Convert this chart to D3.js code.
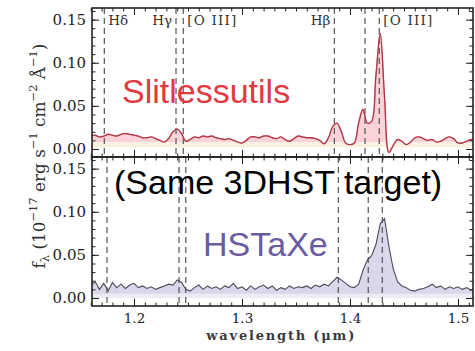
<!DOCTYPE html>
<html>
<head>
<meta charset="utf-8">
<script src="https://cdn.jsdelivr.net/npm/d3@7"></script>
<style>
  html, body { margin: 0; padding: 0; background: #fff; }
  svg { display: block; }
</style>
</head>
<body>
<svg id="chart" width="475" height="351"></svg>
<script>
// Observed wavelength grid (micron)
const wavelength = [
  1.160, 1.164, 1.168, 1.172, 1.176, 1.180, 1.184, 1.188, 1.192, 1.196,
  1.200, 1.204, 1.208, 1.212, 1.216, 1.220, 1.224, 1.228, 1.232, 1.236,
  1.240, 1.244, 1.248, 1.252, 1.256, 1.260, 1.264, 1.268, 1.272, 1.276,
  1.280, 1.284, 1.288, 1.292, 1.296, 1.300, 1.304, 1.308, 1.312, 1.316,
  1.320, 1.324, 1.328, 1.332, 1.336, 1.340, 1.344, 1.348, 1.352, 1.356,
  1.360, 1.364, 1.368, 1.372, 1.376, 1.380, 1.384, 1.388, 1.392, 1.396,
  1.400, 1.404, 1.408, 1.412, 1.416, 1.420, 1.424, 1.428, 1.432, 1.436,
  1.440, 1.444, 1.448, 1.452, 1.456, 1.460, 1.464, 1.468, 1.472, 1.476,
  1.480, 1.484, 1.488, 1.492, 1.496, 1.500, 1.504, 1.508, 1.512, 1.516
];

// 1D spectrum extracted with slitlessutils (1e-17 erg/s/cm2/A)
const slitlessFlux = [
  0.015, 0.016, 0.014, 0.015, 0.017, 0.016, 0.015, 0.017, 0.018, 0.017,
  0.016, 0.015, 0.013, 0.013, 0.014, 0.012, 0.010, 0.008, 0.012, 0.020,
  0.023, 0.018, 0.009, 0.011, 0.014, 0.013, 0.015, 0.014, 0.015, 0.013,
  0.012, 0.011, 0.012, 0.010, 0.008, 0.007, 0.010, 0.014, 0.014, 0.013,
  0.015, 0.015, 0.013, 0.012, 0.014, 0.011, 0.009, 0.012, 0.015, 0.014,
  0.013, 0.013, 0.012, 0.010, 0.006, 0.013, 0.026, 0.030, 0.020, 0.007,
  0.005, 0.007, 0.030, 0.046, 0.030, 0.032, 0.085, 0.134, 0.060, -0.004,
  0.004, 0.011, 0.009, 0.005, 0.008, 0.013, 0.014, 0.012, 0.010, 0.011,
  0.008, 0.009, 0.012, 0.014, 0.012, 0.007, 0.007, 0.009, 0.011, 0.010
];

// Same target extracted with HSTaXe
const hstaxeFlux = [
  0.014, 0.019, 0.010, 0.017, 0.008, 0.018, 0.012, 0.016, 0.011, 0.015,
  0.017, 0.012, 0.014, 0.011, 0.013, 0.010, 0.012, 0.014, 0.016, 0.015,
  0.021, 0.018, 0.010, 0.008, 0.012, 0.015, 0.010, 0.014, 0.011, 0.013,
  0.010, 0.014, 0.012, 0.017, 0.011, 0.013, 0.009, 0.014, 0.010, 0.013,
  0.015, 0.011, 0.014, 0.009, 0.012, 0.010, 0.014, 0.011, 0.013, 0.012,
  0.014, 0.011, 0.015, 0.013, 0.016, 0.014, 0.019, 0.024, 0.021, 0.017,
  0.013, 0.012, 0.016, 0.032, 0.044, 0.049, 0.062, 0.086, 0.092, 0.060,
  0.034, 0.019, 0.014, 0.012, 0.009, 0.008, 0.010, 0.011, 0.013, 0.016,
  0.012, 0.014, 0.010, 0.013, 0.011, 0.013, 0.010, 0.012, 0.009, 0.010
];

// Redshifted emission-line markers (micron), per extraction
const lineWaveTop = [1.1725, 1.2389, 1.2456, 1.3855, 1.4139, 1.4271];
const lineWaveBottom = [1.1750, 1.2417, 1.2479, 1.3892, 1.4169, 1.4299];
const lineLabels = ["Hδ", "Hγ", "[O III]", "Hβ", "[O III]"];
const lineLabelIndex = [0, 1, 2, 3, 5];
const lineLabelSide = ["right", "left", "right", "left", "right"];

const xTicks = [1.2, 1.3, 1.4, 1.5];
const yTicks = [0.00, 0.05, 0.10, 0.15];
const panelNames = ["Slitlessutils", "HSTaXe"];

const svg = d3.select("#chart");
const serif = "'DejaVu Serif', 'Liberation Serif', serif";
const sans = "'Liberation Sans', Arial, sans-serif";

const L = 92, R = 473;
const x = d3.scaleLinear().domain([1.1611, 1.5139]).range([L, R]);
const panels = [
  { top: 8, bottom: 157, flux: slitlessFlux, lines: lineWaveTop },
  { top: 157, bottom: 306, flux: hstaxeFlux, lines: lineWaveBottom }
];
panels.forEach(p => {
  p.y = d3.scaleLinear().domain([-0.0093, 0.1635]).range([p.bottom, p.top]);
});

const defs = svg.append("defs");
panels.forEach((p, i) => {
  defs.append("clipPath").attr("id", "clip" + i)
    .append("rect").attr("x", L).attr("y", p.top)
    .attr("width", R - L).attr("height", p.bottom - p.top);
});

const pts = f => wavelength.map((w, i) => ({ w, f: f[i] }));

// ---- Slitlessutils spectrum (top) ----
{
  const p = panels[0];
  const g = svg.append("g").attr("clip-path", "url(#clip0)");
  const data = pts(p.flux);
  const curve = d3.curveCatmullRom.alpha(0.5);
  g.append("path").datum(data)
    .attr("d", d3.area().curve(curve).x(d => x(d.w)).y0(p.y(0.002)).y1(d => p.y(d.f)))
    .attr("fill", "#fcefe3");
  g.append("path").datum(data)
    .attr("d", d3.area().curve(curve).x(d => x(d.w)).y0(d => p.y(Math.min(0.008, d.f))).y1(d => p.y(d.f)))
    .attr("fill", "#f9d3d8");
  p.lines.forEach(w => {
    g.append("line").attr("x1", x(w)).attr("x2", x(w)).attr("y1", p.top).attr("y2", p.bottom)
      .attr("stroke", "#555").attr("stroke-width", 1.2).attr("stroke-dasharray", "6,4");
  });
  g.append("path").datum(data)
    .attr("d", d3.line().curve(curve).x(d => x(d.w)).y(d => p.y(d.f)))
    .attr("fill", "none").attr("stroke", "#e0374c").attr("stroke-width", 1.4);
  g.append("path").datum(data)
    .attr("d", d3.line().curve(curve).x(d => x(d.w)).y(d => p.y(d.f)))
    .attr("fill", "none").attr("stroke", "#444").attr("stroke-width", 0.7).attr("opacity", 0.6);
}

// ---- HSTaXe spectrum (bottom) ----
{
  const p = panels[1];
  const g = svg.append("g").attr("clip-path", "url(#clip1)");
  const data = pts(p.flux);
  g.append("path").datum(data)
    .attr("d", d3.area().x(d => x(d.w)).y0(p.y(0.0)).y1(d => p.y(d.f)))
    .attr("fill", "#ececf5");
  g.append("path").datum(data)
    .attr("d", d3.area().x(d => x(d.w)).y0(d => p.y(Math.min(0.005, d.f))).y1(d => p.y(d.f)))
    .attr("fill", "#d8d8ea");
  p.lines.forEach(w => {
    g.append("line").attr("x1", x(w)).attr("x2", x(w)).attr("y1", p.top).attr("y2", p.bottom)
      .attr("stroke", "#555").attr("stroke-width", 1.2).attr("stroke-dasharray", "6,4");
  });
  g.append("path").datum(data)
    .attr("d", d3.line().x(d => x(d.w)).y(d => p.y(d.f)))
    .attr("fill", "none").attr("stroke", "#4a4a58").attr("stroke-width", 1.1);
}

// ---- Frames and ticks ----
const xMinor = d3.range(116, 152).map(v => v / 100);
const yMinor = d3.range(0, 17).map(v => v / 100);
panels.forEach((p, i) => {
  const isBottom = i === 1;
  const mk = (axis, tx, ty) => {
    const g = svg.append("g").attr("transform", `translate(${tx},${ty})`).call(axis);
    g.select(".domain").remove();
    g.selectAll(".tick line").attr("stroke", "#222").attr("stroke-width", 1);
    return g;
  };
  const gl = mk(d3.axisLeft(p.y).tickValues(yTicks).tickSize(-7).tickPadding(6).tickFormat(d3.format(".2f")), L, 0);
  gl.selectAll("text").attr("font-family", serif).attr("font-size", 15).attr("fill", "#222");
  mk(d3.axisLeft(p.y).tickValues(yMinor).tickSize(-3.5).tickFormat(""), L, 0);
  mk(d3.axisRight(p.y).tickValues(yTicks).tickSize(-7).tickFormat(""), R, 0);
  mk(d3.axisRight(p.y).tickValues(yMinor).tickSize(-3.5).tickFormat(""), R, 0);
  const gb = mk(d3.axisBottom(x).tickValues(xTicks).tickSize(-7).tickPadding(7)
    .tickFormat(isBottom ? d3.format(".1f") : ""), 0, p.bottom);
  gb.selectAll("text").attr("font-family", serif).attr("font-size", 13.5).attr("fill", "#222");
  mk(d3.axisBottom(x).tickValues(xMinor).tickSize(-3.5).tickFormat(""), 0, p.bottom);
  mk(d3.axisTop(x).tickValues(xTicks).tickSize(-7).tickFormat(""), 0, p.top);
  mk(d3.axisTop(x).tickValues(xMinor).tickSize(-3.5).tickFormat(""), 0, p.top);
  svg.append("rect").attr("x", L).attr("y", p.top).attr("width", R - L).attr("height", p.bottom - p.top)
    .attr("fill", "none").attr("stroke", "#222").attr("stroke-width", 1.6);
});

// ---- Emission-line labels ----
lineLabels.forEach((t, k) => {
  const w = lineWaveTop[lineLabelIndex[k]];
  const right = lineLabelSide[k] === "right";
  svg.append("text")
    .attr("x", x(w) + (right ? 4 : -4))
    .attr("y", 25)
    .attr("text-anchor", right ? "start" : "end")
    .attr("font-family", serif).attr("font-size", 13.5)
    .attr("letter-spacing", t.length > 3 ? 1.2 : 0)
    .attr("fill", "#333")
    .text(t);
});

// ---- Axis titles ----
svg.append("text")
  .attr("x", x(1.3355)).attr("y", 340)
  .attr("text-anchor", "middle")
  .attr("font-family", serif).attr("font-size", 13).attr("font-weight", "bold")
  .attr("fill", "#3a3a3a")
  .attr("textLength", 148).attr("lengthAdjust", "spacing")
  .text("wavelength (μm)");

const yl = svg.append("text")
  .attr("transform", "translate(45,156) rotate(-90)")
  .attr("text-anchor", "middle")
  .attr("font-family", serif).attr("fill", "#333");
const parts = [
  ["f", 0], ["λ", 1], [" (10", 0], ["−17", 2], [" erg s", 0], ["−1", 2],
  [" cm", 0], ["−2", 2], [" Å", 0], ["−1", 2], [")", 0]
];
function drawYLabel(base) {
  yl.selectAll("tspan").remove();
  let shift = 0;
  parts.forEach(([s, kind]) => {
    const target = kind === 1 ? base * 0.25 : kind === 2 ? -base * 0.45 : 0;
    yl.append("tspan")
      .attr("dy", target - shift)
      .attr("font-size", kind ? base * 0.68 : base)
      .text(s);
    shift = target;
  });
}
drawYLabel(14);
// fit the title to the combined height of both panels' label column
const len = yl.node().getComputedTextLength();
drawYLabel(14 * 225 / len);

// ---- Panel annotations ----
svg.append("text").attr("x", 122).attr("y", 103)
  .attr("font-family", sans).attr("font-size", 34).attr("fill", "#e2383f")
  .text(panelNames[0]);
svg.append("text").attr("x", 114).attr("y", 194)
  .attr("font-family", sans).attr("font-size", 34).attr("fill", "#000")
  .text("(Same 3DHST target)");
svg.append("text").attr("x", 203).attr("y", 256)
  .attr("font-family", sans).attr("font-size", 34).attr("fill", "#6a5ca3")
  .text(panelNames[1]);
</script>
</body>
</html>
